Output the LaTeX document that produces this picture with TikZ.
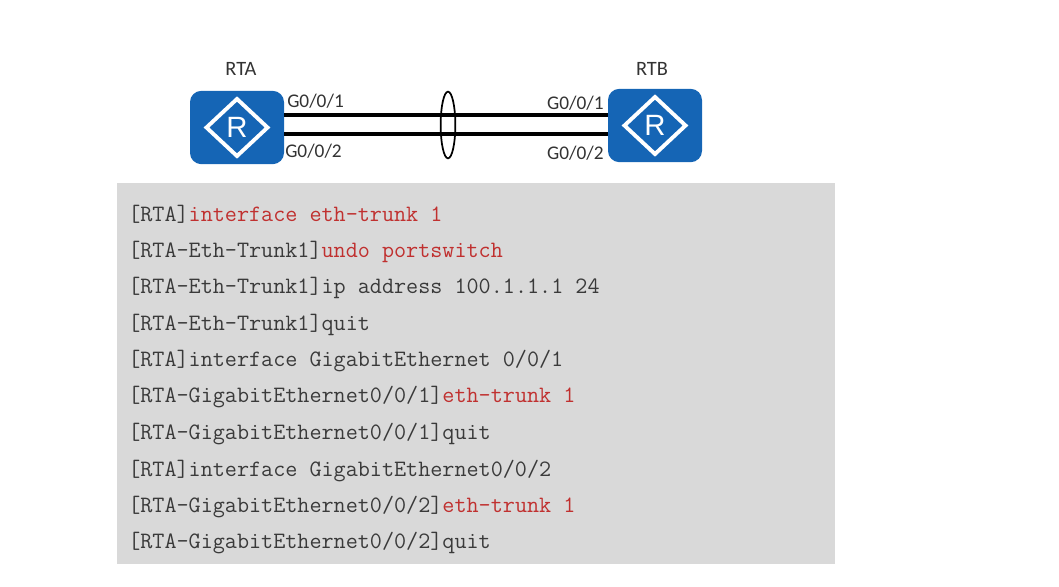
\documentclass[tikz,border=0pt]{standalone}
\usepackage{fontspec}
\setmainfont{Carlito}
\usetikzlibrary{shapes.geometric}

\definecolor{routerblue}{HTML}{1565B5}
\definecolor{panelgray}{HTML}{D9D9D9}
\definecolor{cmdred}{HTML}{C0302F}
\definecolor{cmdgray}{HTML}{3A3A3A}

\tikzset{
	router/.style={fill=routerblue, rounded corners=8.5pt, minimum width=70.5pt, minimum height=55pt, inner sep=0pt},
	routerdiamond/.style={diamond, draw=white, line width=2.9pt, minimum width=47pt, minimum height=44pt, inner sep=0pt, aspect=1},
	routerletter/.style={text=white, font=\fontsize{22}{22}\selectfont\fontspec{Liberation Sans}, inner sep=0pt},
	routername/.style={font=\fontsize{15.3}{16}\selectfont, text=black!80, inner sep=0pt},
	portname/.style={font=\fontsize{14.5}{15}\selectfont, text=black!80, inner sep=0pt},
	cmdline/.style={anchor=base west, inner sep=0pt, font=\ttfamily\fontsize{17.6}{18}\selectfont, text=cmdgray},
	trunklink/.style={line width=2.3pt, black},
}

\begin{document}
\begin{tikzpicture}[x=0.75pt, y=-0.75pt]

\useasboundingbox (0,0) rectangle (1059,586);

\fill[panelgray] (117,183) rectangle (835,564);

% routers
\foreach\name/\xc/\yc/\xt/\title in {rta/237/127.5/241/RTA, rtb/655/125.5/652/RTB}{
	\node[router] (\name) at (\xc,\yc) {};
	\node[routerdiamond] (\name diamond) at (\name) {};
	\node[routerletter] (\name letter) at (\name) {R};
	\node[routername] (\name name) at (\xt,69) {\title};
}

% trunk links
\coordinate (rtaup) at (284,115);
\coordinate (rtadown) at (284,134);
\coordinate (rtbup) at (608,115);
\coordinate (rtbdown) at (608,134);
\draw[trunklink] (rtaup)--(rtbup);
\draw[trunklink] (rtadown)--(rtbdown);

\node[draw, ellipse, line width=1.3pt, minimum width=11pt, minimum height=50pt, inner sep=0pt] (bundle) at (448,125) {};

\node[portname, anchor=west] (rtaportone) at (287,101) {G0/0/1};
\node[portname, anchor=west] (rtaporttwo) at (285,151) {G0/0/2};
\node[portname, anchor=east] (rtbportone) at (604,103) {G0/0/1};
\node[portname, anchor=east] (rtbporttwo) at (604,153) {G0/0/2};

% commands
\foreach\i/\y/\prompt/\cmd/\rest in {
	1/221/{[RTA]}/{interface eth-trunk 1}/{},
	2/257/{[RTA-Eth-Trunk1]}/{undo portswitch}/{},
	3/293/{[RTA-Eth-Trunk1]}/{}/{ip address 100.1.1.1 24},
	4/330/{[RTA-Eth-Trunk1]}/{}/{quit},
	5/366/{[RTA]}/{}/{interface GigabitEthernet 0/0/1},
	6/402/{[RTA-GigabitEthernet0/0/1]}/{eth-trunk 1}/{},
	7/439/{[RTA-GigabitEthernet0/0/1]}/{}/{quit},
	8/476/{[RTA]}/{}/{interface GigabitEthernet0/0/2},
	9/512/{[RTA-GigabitEthernet0/0/2]}/{eth-trunk 1}/{},
	10/548/{[RTA-GigabitEthernet0/0/2]}/{}/{quit}}{
	\node[cmdline] (cmd\i) at (128,\y) {\prompt\textcolor{cmdred}{\cmd}\rest};
}

\end{tikzpicture}
\end{document}
